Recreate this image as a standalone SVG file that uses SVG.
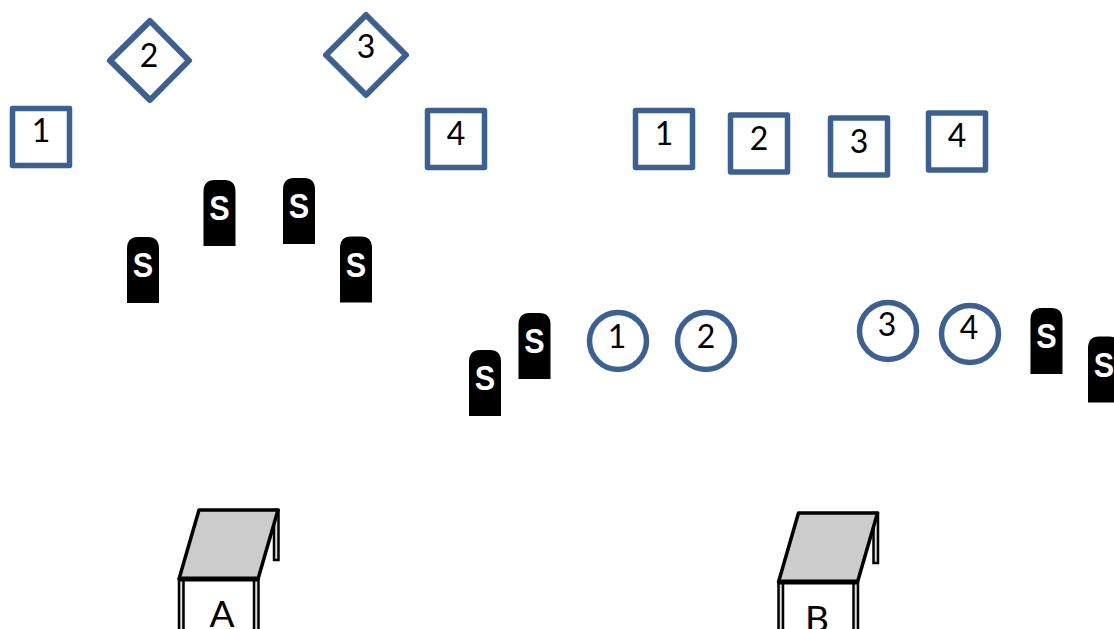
<svg xmlns="http://www.w3.org/2000/svg" width="1114" height="629" viewBox="0 0 1114 629">
<style>
.n{fill:#fff;stroke:#3b6091;stroke-width:5.500;stroke-linejoin:round}
.d{stroke-width:6}
.t{font-family:"Lato","Carlito","Liberation Sans",sans-serif;font-size:32px;fill:#000;text-anchor:middle}
.L{font-size:37px}
.s{font-family:"Liberation Sans",sans-serif;font-weight:700;font-size:36px;fill:#fff;text-anchor:middle}
.top{fill:#ccc;stroke:#000;stroke-width:3.500;stroke-linejoin:round}
.leg{fill:#ddd;stroke:#000;stroke-width:2.500}
</style>
<defs>
<g id="stone"><path d="M0 66V12Q0 0 11 0H21Q32 0 32 12V66Z" fill="#000"/><text class="s" transform="translate(16 40) scale(.85 1)">S</text></g>
<g id="table">
<rect class="leg" x="95" y="0" width="4.500" height="50"/>
<rect class="leg" x="0" y="69" width="4.500" height="60"/>
<rect class="leg" x="75" y="69" width="4.500" height="60"/>
<path class="top" d="M0 69L20 0H99L79 69Z"/>
<path d="M0 69H79" stroke="#000" stroke-width="5"/>
</g>
</defs>
<g id="connectors"/>
<g id="a1"><rect class="n" x="12.500" y="108.500" width="57" height="57"/><text class="t" x="41" y="142">1</text></g>
<g id="a2"><path class="n d" d="M150 21L189 60.500L150 100L110 60.500Z"/><text class="t" x="149" y="67">2</text></g>
<g id="a3"><path class="n d" d="M366 15L406 55L366 95L326 55Z"/><text class="t" x="366" y="58">3</text></g>
<g id="a4"><rect class="n" x="427.500" y="110.500" width="57" height="57"/><text class="t" x="456" y="145">4</text></g>
<g id="b1"><rect class="n" x="635.500" y="110.500" width="57" height="57"/><text class="t" x="664" y="145">1</text></g>
<g id="b2"><rect class="n" x="730.500" y="115" width="57" height="57"/><text class="t" x="759" y="150">2</text></g>
<g id="b3"><rect class="n" x="830.500" y="118" width="57" height="57"/><text class="t" x="859" y="153">3</text></g>
<g id="b4"><rect class="n" x="928.500" y="113" width="57" height="57"/><text class="t" x="957" y="147">4</text></g>
<g id="c1"><circle class="n" cx="618" cy="341" r="28.500"/><text class="t" x="617" y="348">1</text></g>
<g id="c2"><circle class="n" cx="706" cy="341" r="28.500"/><text class="t" x="706" y="348">2</text></g>
<g id="c3"><circle class="n" cx="888" cy="331" r="28.500"/><text class="t" x="887" y="336">3</text></g>
<g id="c4"><circle class="n" cx="970" cy="334" r="28.500"/><text class="t" x="969" y="339">4</text></g>
<g id="s1"><use href="#stone" x="127" y="237"/></g>
<g id="s2"><use href="#stone" x="203.500" y="180"/></g>
<g id="s3"><use href="#stone" x="283" y="178"/></g>
<g id="s4"><use href="#stone" x="340" y="236.500"/></g>
<g id="s5"><use href="#stone" x="469" y="350"/></g>
<g id="s6"><use href="#stone" x="518.500" y="313"/></g>
<g id="s7"><use href="#stone" x="1030.500" y="308"/></g>
<g id="s8"><use href="#stone" x="1088" y="336.500"/></g>
<g id="tableA"><use href="#table" x="179" y="510"/><text class="t L" x="222" y="627">A</text></g>
<g id="tableB"><use href="#table" x="778.500" y="513"/><text class="t L" x="817" y="632">B</text></g>
</svg>
